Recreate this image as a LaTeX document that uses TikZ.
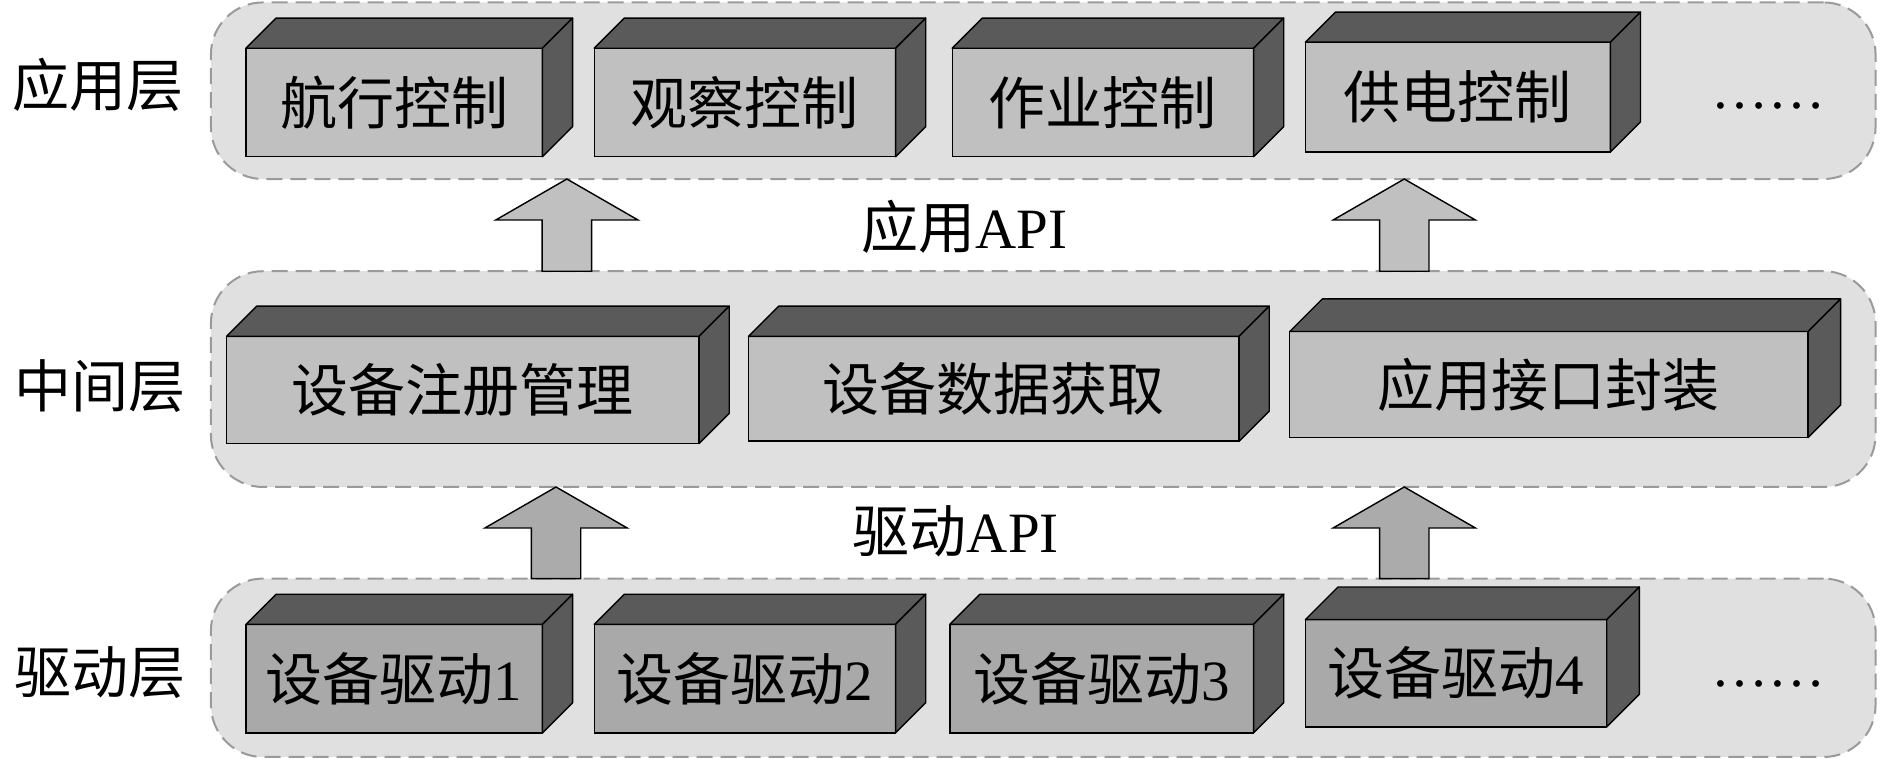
\documentclass[tikz,border=0pt]{standalone}
\usepackage{fontspec}
\setmainfont{Liberation Serif}
\newfontfamily\cjk{Noto Sans CJK SC}
\usetikzlibrary{fit,calc}
\definecolor{panelfill}{HTML}{E0E0E0}
\definecolor{paneldraw}{HTML}{9A9A9A}
\definecolor{frontA}{HTML}{C0C0C0}
\definecolor{frontD}{HTML}{A9A9A9}
\definecolor{darkface}{HTML}{5A5A5A}
\definecolor{arrA}{HTML}{C0C0C0}
\definecolor{arrD}{HTML}{ABABAB}
\tikzset{
  panel/.style={draw=paneldraw, fill=panelfill, line width=1pt, dash pattern=on 8pt off 4pt, rounded corners=26pt, inner sep=0pt, outer sep=0pt},
  frontbox/.style={draw=black, fill=frontA, line width=0.7pt, inner sep=0pt, outer sep=0pt},
  drvbox/.style={frontbox, fill=frontD},
  darkfacestyle/.style={draw=black, fill=darkface, line width=0.7pt, line join=round},
  bigarrow/.style={draw=black, line width=0.7pt, line join=miter},
  txt/.style={font=\fontsize{28.5}{31}\selectfont},
  layertxt/.style={font=\fontsize{28.5}{31}\selectfont\cjk, inner sep=0pt}
}
\newcommand\cubefaces[2]{%
  \filldraw[darkfacestyle] (#1.north west) -- ($(#1.north west)+(#2,#2)$) -- ($(#1.north east)+(#2,#2)$) -- (#1.north east) -- cycle;
  \filldraw[darkfacestyle] (#1.north east) -- ($(#1.north east)+(#2,#2)$) -- ($(#1.south east)+(#2,#2)$) -- (#1.south east) -- cycle;}
\newcommand\uparr[3]{%
  \filldraw[bigarrow, fill=#3] ($(#2)+(-20.5,0)$) -- ($(#1)+(-20.5,-34)$) -- ($(#1)+(-59,-34)$) -- (#1) -- ($(#1)+(59,-34)$) -- ($(#1)+(20.5,-34)$) -- ($(#2)+(20.5,0)$) -- cycle;}
\begin{document}
\begin{tikzpicture}[x=0.6027pt, y=0.6027pt]
\useasboundingbox (0,0) rectangle (1568,-629);
% panels
\node[panel, fit={(175,-2) (1556,-148.5)}] (appL) {};
\node[panel, fit={(175,-225) (1556,-404)}] (midL) {};
\node[panel, fit={(175,-480) (1556,-628)}] (drvL) {};
% layer labels
\node[layertxt] (lab1) at (81,-70) {应用层};
\node[layertxt] (lab2) at (83,-320) {中间层};
\node[layertxt] (lab3) at (83,-558) {驱动层};
% application row
\node[frontbox, fit={(204,-40) (450,-130)}, label={[txt]center:{\cjk 航行控制}}] (a1) {};
\cubefaces{a1}{25}
\node[frontbox, fit={(493,-40) (743,-130)}, label={[txt]center:{\cjk 观察控制}}] (a2) {};
\cubefaces{a2}{25}
\node[frontbox, fit={(790,-40) (1040,-130)}, label={[txt]center:{\cjk 作业控制}}] (a3) {};
\cubefaces{a3}{25}
\node[frontbox, fit={(1083,-35) (1336,-126)}, label={[txt]center:{\cjk 供电控制}}] (a4) {};
\cubefaces{a4}{25}
\node[txt] (adots) at (1467,-88) {……};
% middle row
\node[frontbox, fit={(188,-279) (580,-368)}, label={[txt]center:{\cjk 设备注册管理}}] (m1) {};
\cubefaces{m1}{25}
\node[frontbox, fit={(621,-279) (1028,-366)}, label={[txt]center:{\cjk 设备数据获取}}] (m2) {};
\cubefaces{m2}{25}
\node[frontbox, fit={(1070,-275) (1500,-363)}, label={[txt]center:{\cjk 应用接口封装}}] (m3) {};
\cubefaces{m3}{27}
% driver row
\node[drvbox, fit={(204,-518) (450,-608)}, label={[txt]center:{\cjk 设备驱动}1}] (d1) {};
\cubefaces{d1}{25}
\node[drvbox, fit={(493,-518) (743,-608)}, label={[txt]center:{\cjk 设备驱动}2}] (d2) {};
\cubefaces{d2}{25}
\node[drvbox, fit={(788,-518) (1040,-608)}, label={[txt]center:{\cjk 设备驱动}3}] (d3) {};
\cubefaces{d3}{25}
\node[drvbox, fit={(1083,-514) (1333,-603)}, label={[txt]center:{\cjk 设备驱动}4}] (d4) {};
\cubefaces{d4}{27}
\node[txt] (ddots) at (1467,-567) {……};
% arrows
\coordinate (ux1) at (470.3,0);
\coordinate (ux2) at (1165,0);
\coordinate (lx1) at (461.3,0);
\coordinate (lx2) at (1165,0);
\coordinate (t1) at (appL.south -| ux1);
\coordinate (b1) at (midL.north -| ux1);
\coordinate (t2) at (appL.south -| ux2);
\coordinate (b2) at (midL.north -| ux2);
\coordinate (t3) at (midL.south -| lx1);
\coordinate (b3) at (drvL.north -| lx1);
\coordinate (t4) at (midL.south -| lx2);
\coordinate (b4) at (drvL.north -| lx2);
\uparr{t1}{b1}{arrA}
\uparr{t2}{b2}{arrA}
\uparr{t3}{b3}{arrD}
\uparr{t4}{b4}{arrD}
\node[txt] (api1) at (800,-188) {{\cjk 应用}API};
\node[txt] (api2) at (793,-441) {{\cjk 驱动}API};
\end{tikzpicture}
\end{document}
